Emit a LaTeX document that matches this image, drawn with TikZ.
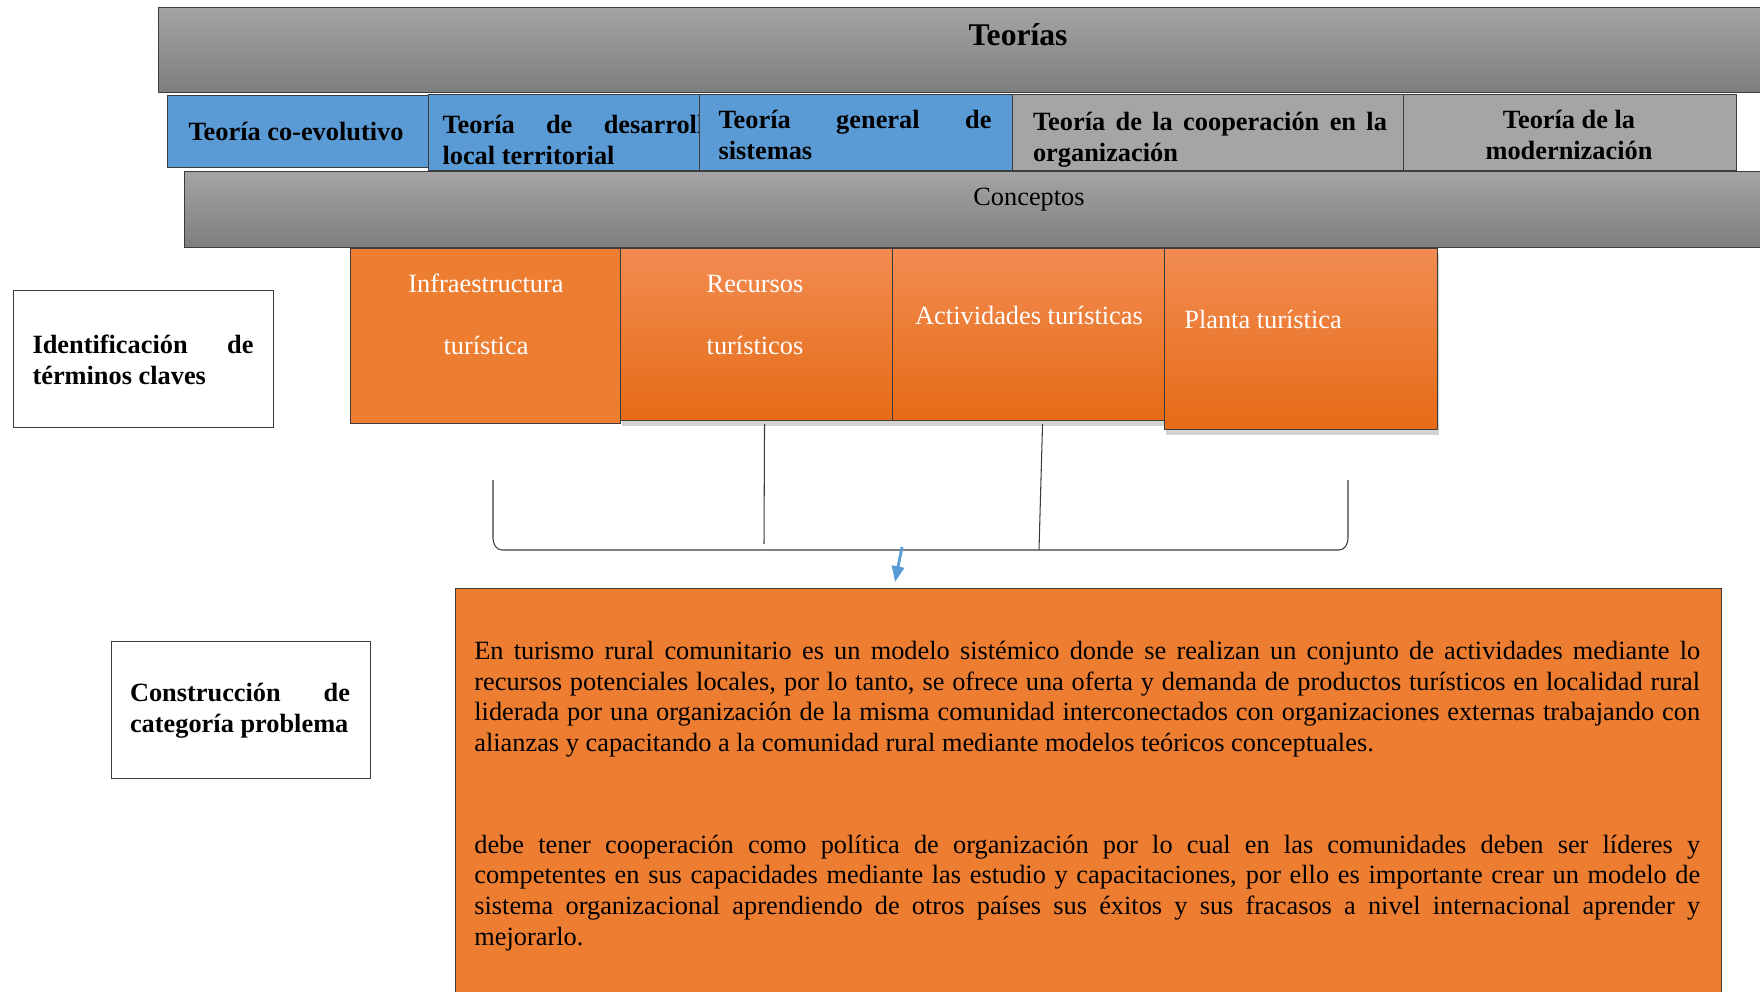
\documentclass[tikz,border=0pt]{standalone}
\usepackage{fontspec}
\setmainfont{Liberation Serif}
\usetikzlibrary{arrows.meta, positioning, calc, shadows}

\definecolor{grisclaro}{RGB}{164,164,164}
\definecolor{grisoscuro}{RGB}{126,126,126}
\definecolor{grismedio}{RGB}{165,165,165}
\definecolor{azul}{RGB}{91,155,213}
\definecolor{naranja}{RGB}{237,125,49}
\definecolor{naranjatop}{RGB}{242,140,82}
\definecolor{naranjabot}{RGB}{229,107,22}
\definecolor{borde}{RGB}{60,60,60}

\tikzset{
  tam/.style 2 args={minimum width=#1*0.02cm, minimum height=#2*0.02cm},
  caja/.style={draw=borde, line width=0.6pt, anchor=north west, inner sep=0pt},
  gris/.style={caja, top color=grisclaro, bottom color=grisoscuro},
  teoria/.style={caja, fill=azul},
  teoriagris/.style={caja, fill=grismedio},
  concepto/.style={caja, top color=naranjatop, bottom color=naranjabot,
    drop shadow={opacity=0.35, shadow xshift=1pt, shadow yshift=-3pt}},
  blanca/.style={caja, fill=white},
  letra/.style={font=\fontsize{15}{17.4}\selectfont, inner sep=0pt},
  negrita/.style={font=\fontsize{15}{17.6}\selectfont\bfseries, inner sep=0pt},
  flecha/.style={draw=azul, line width=1.6pt, -{Triangle[length=9pt,width=7pt]}}
}

\begin{document}
\begin{tikzpicture}[x=0.02cm, y=-0.02cm]
\useasboundingbox (0,0) rectangle (1760,991);

% teorias
\node[gris, tam={1610}{85}] (teorias) at (158,7) {};
\node[negrita, font=\fontsize{18}{21}\selectfont\bfseries] (teoriasT) at (1018,35) {Teorías};

\node[teoria, tam={271}{76}] (desarrollo) at (428,94) {};
\node[negrita, text width=5.5cm, align=justify] (desarrolloT) at (580,140)
  {Teoría de desarrollo\linebreak local territorial};
\node[teoria, tam={313}{76}] (sistemas) at (699,94) {};
\node[negrita, text width=5.46cm, align=justify] (sistemasT) at (855,135)
  {Teoría general de\linebreak sistemas};
\node[teoriagris, tam={391}{76}] (cooperacion) at (1012,94) {};
\node[negrita, text width=7.08cm, align=justify] (cooperacionT) at (1210,140)
  {Teoría de la cooperación en la\linebreak organización};
\node[teoriagris, tam={333}{76}] (modernizacion) at (1403,94) {};
\node[negrita, align=center] (modernizacionT) at (1569,135) {Teoría de la\\modernización};
\node[teoria, tam={261}{72}] (coevolutivo) at (167,95) {};
\node[negrita] (coevolutivoT) at (296,131) {Teoría co-evolutivo};

% conceptos
\node[gris, tam={1590}{76}] (conceptos) at (184,171) {};
\node[letra] (conceptosT) at (1029,200) {Conceptos};

\node[caja, fill=naranja, tam={270}{175}] (infraestructura) at (350,248) {};
\node[letra, text=white, align=center] (infraestructuraT) at (486,314)
  {Infraestructura\\[17.9pt]turística};
\node[concepto, tam={272}{172}] (recursos) at (620,248) {};
\node[letra, text=white, align=center] (recursosT) at (755,315)
  {Recursos\\[17.9pt]turísticos};
\node[concepto, tam={272}{172}] (actividades) at (892,248) {};
\node[letra, text=white] (actividadesT) at (1029,315) {Actividades turísticas};
\node[concepto, tam={273}{181}] (planta) at (1164,248) {};
\node[letra, text=white, anchor=west] (plantaT) at (1184,319) {Planta turística};

\node[blanca, tam={260}{137}] (identificacion) at (13,290) {};
\node[negrita, text width=4.42cm, align=justify] (identificacionT) at (143,360)
  {Identificación de\linebreak términos claves};

% llave
\coordinate (llaveI) at (493,480);
\coordinate (llaveD) at (1348,480);
\coordinate (unionR) at (764,544);
\coordinate (unionA) at (1039,550);
\draw[borde, line width=0.6pt] (llaveI) -- (493,538) to[out=-90, in=180] (502,550)
  -- (1339,550) to[out=0, in=-90] (1348,538) -- (llaveD);
\draw[borde, line width=0.6pt] ($(recursos.south)+(8,3)$) -- (unionR);
\draw[borde, line width=0.6pt] ($(actividades.south)+(14,3)$) -- (unionA);
\coordinate (flechaI) at (902,547);
\coordinate (flechaF) at (895,582);
\draw[flecha] (flechaI) -- (flechaF);

% categoria
\node[blanca, tam={259}{137}] (construccion) at (111,641) {};
\node[negrita, text width=4.4cm, align=justify] (construccionT) at (240,711)
  {Construcción de\linebreak categoría problema};

\node[caja, fill=naranja, tam={1266}{420}] (definicion) at (455,588) {};
\node[letra, anchor=north west, text width=24.52cm, align=justify] (definicionT) at (474,641)
  {En turismo rural comunitario es un modelo sistémico donde se realizan un conjunto de actividades mediante lo\linebreak
  recursos potenciales locales, por lo tanto, se ofrece una oferta y demanda de productos turísticos en localidad rural\linebreak
  liderada por una organización de la misma comunidad interconectados con organizaciones externas trabajando con\linebreak
  alianzas y capacitando a la comunidad rural mediante modelos teóricos conceptuales.\par\vspace{40.6pt}
  debe tener cooperación como política de organización por lo cual en las comunidades deben ser líderes y\linebreak
  competentes en sus capacidades mediante las estudio y capacitaciones, por ello es importante crear un modelo de\linebreak
  sistema organizacional aprendiendo de otros países sus éxitos y sus fracasos a nivel internacional aprender y\linebreak
  mejorarlo.};
\end{tikzpicture}
\end{document}
